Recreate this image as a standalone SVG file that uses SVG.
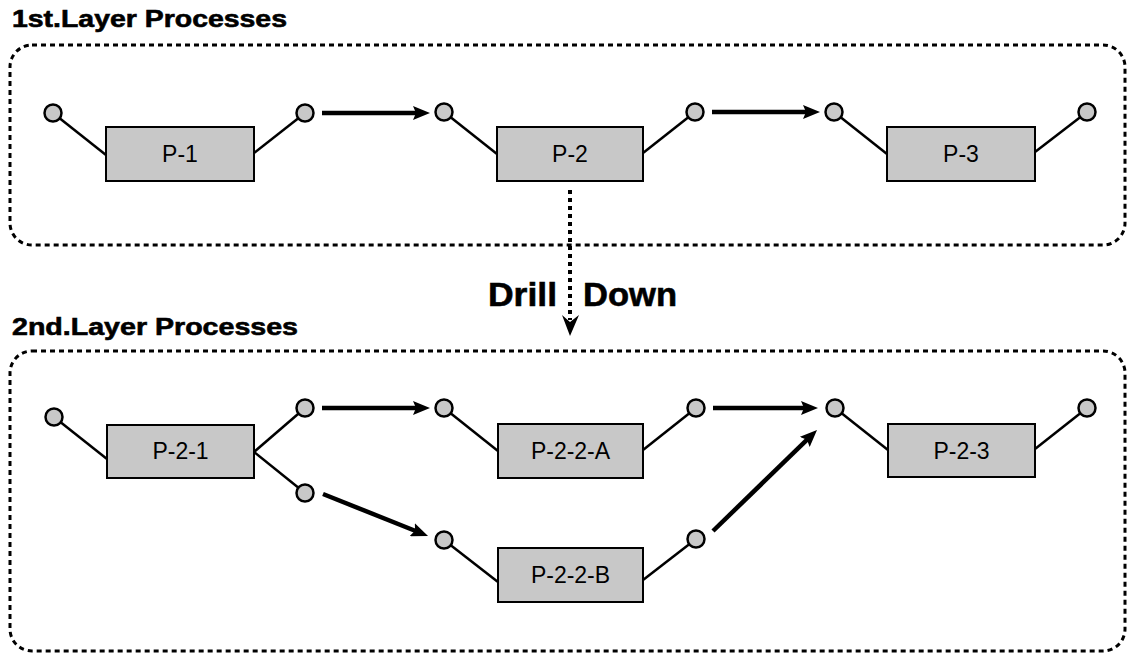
<svg xmlns="http://www.w3.org/2000/svg" width="1128" height="658" viewBox="0 0 1128 658">
<style>
.title{font-family:"Liberation Sans",Arial,sans-serif;font-weight:bold;font-size:24px;fill:#000;stroke:#000;stroke-width:0.6}
.drill{font-family:"Liberation Sans",Arial,sans-serif;font-weight:bold;font-size:34px;fill:#000;stroke:#000;stroke-width:0.6}
.lbl{font-family:"Liberation Sans",Arial,sans-serif;font-size:23px;fill:#000;text-anchor:middle}
.frame{fill:none;stroke:#000;stroke-width:3;stroke-dasharray:5 4}
.box{fill:#c8c8c8;stroke:#000;stroke-width:2}
.port{fill:#c8c8c8;stroke:#000;stroke-width:2.5}
.link{stroke:#000;stroke-width:2.5;fill:none}
.arrow{stroke:#000;stroke-width:4.5;fill:none;marker-end:url(#ah)}
</style>
<defs>
<marker id="ah" markerUnits="userSpaceOnUse" markerWidth="18" markerHeight="14" refX="5" refY="7" orient="auto">
<path d="M0,0 L17,7 L0,14 L3,7 z" fill="#000"/>
</marker>
</defs>

<g id="layer1-frame">
<text class="title" x="12" y="27" textLength="275" lengthAdjust="spacingAndGlyphs">1st.Layer Processes</text>
<rect class="frame" x="10" y="45" width="1115" height="200" rx="22" ry="22"/>
</g>
<g id="layer2-frame">
<text class="title" x="12" y="335" textLength="286" lengthAdjust="spacingAndGlyphs">2nd.Layer Processes</text>
<rect class="frame" x="10" y="351" width="1115" height="300" rx="22" ry="22"/>
</g>

<g id="connectors">
<line class="arrow" x1="322" y1="113" x2="418" y2="113"/>
<line class="arrow" x1="712" y1="112" x2="808" y2="112"/>
<line class="arrow" x1="322" y1="408" x2="418" y2="408"/>
<line class="arrow" x1="323" y1="494" x2="416.9" y2="531.5"/>
<line class="arrow" x1="713" y1="408" x2="806" y2="408"/>
<line class="arrow" x1="713" y1="531" x2="808.4" y2="438.4"/>
<g id="drill-down">
<line x1="570" y1="190" x2="570" y2="320" stroke="#000" stroke-width="4" stroke-dasharray="4 4"/>
<path d="M570,336 L562,315 L570,322 L579,315 z" fill="#000"/>
</g>
</g>

<g id="drill-label">
<text class="drill" x="488" y="306" textLength="69" lengthAdjust="spacingAndGlyphs">Drill</text>
<text class="drill" x="583" y="306" textLength="94" lengthAdjust="spacingAndGlyphs">Down</text>
</g>

<g id="P-1">
<line class="link" x1="53" y1="113" x2="106" y2="155"/>
<line class="link" x1="254" y1="153" x2="305" y2="113"/>
<rect class="box" x="106" y="127" width="148" height="54"/>
<text class="lbl" x="180" y="162">P-1</text>
<circle class="port" cx="53" cy="113" r="8.5"/>
<circle class="port" cx="305" cy="113" r="8.5"/>
</g>
<g id="P-2">
<line class="link" x1="444" y1="112" x2="497" y2="154"/>
<line class="link" x1="643" y1="153" x2="695" y2="112"/>
<rect class="box" x="497" y="127" width="146" height="54"/>
<text class="lbl" x="570" y="162">P-2</text>
<circle class="port" cx="444" cy="112" r="8.5"/>
<circle class="port" cx="695" cy="112" r="8.5"/>
</g>
<g id="P-3">
<line class="link" x1="834" y1="112" x2="887" y2="154"/>
<line class="link" x1="1035" y1="152" x2="1087" y2="112"/>
<rect class="box" x="887" y="127" width="148" height="54"/>
<text class="lbl" x="961" y="162">P-3</text>
<circle class="port" cx="834" cy="112" r="8.5"/>
<circle class="port" cx="1087" cy="112" r="8.5"/>
</g>

<g id="P-2-1">
<line class="link" x1="54" y1="417" x2="107" y2="459"/>
<line class="link" x1="254" y1="452" x2="305" y2="408"/>
<line class="link" x1="254" y1="452" x2="305" y2="493"/>
<rect class="box" x="107" y="425" width="147" height="53"/>
<text class="lbl" x="180.5" y="459">P-2-1</text>
<circle class="port" cx="54" cy="417" r="8.5"/>
<circle class="port" cx="305" cy="408" r="8.5"/>
<circle class="port" cx="305" cy="493" r="8.5"/>
</g>
<g id="P-2-2-A">
<line class="link" x1="444" y1="408" x2="498" y2="451"/>
<line class="link" x1="643" y1="450" x2="696" y2="408"/>
<rect class="box" x="498" y="424" width="145" height="54"/>
<text class="lbl" x="570.5" y="459">P-2-2-A</text>
<circle class="port" cx="444" cy="408" r="8.5"/>
<circle class="port" cx="696" cy="408" r="8.5"/>
</g>
<g id="P-2-2-B">
<line class="link" x1="444" y1="540" x2="498" y2="582"/>
<line class="link" x1="643" y1="580" x2="696" y2="539"/>
<rect class="box" x="498" y="548" width="145" height="54"/>
<text class="lbl" x="570.5" y="583">P-2-2-B</text>
<circle class="port" cx="444" cy="540" r="8.5"/>
<circle class="port" cx="696" cy="539" r="8.5"/>
</g>
<g id="P-2-3">
<line class="link" x1="835" y1="408" x2="888" y2="450"/>
<line class="link" x1="1035" y1="449" x2="1087" y2="408"/>
<rect class="box" x="888" y="424" width="147" height="53"/>
<text class="lbl" x="961.5" y="459">P-2-3</text>
<circle class="port" cx="835" cy="408" r="8.5"/>
<circle class="port" cx="1087" cy="408" r="8.5"/>
</g>
</svg>
